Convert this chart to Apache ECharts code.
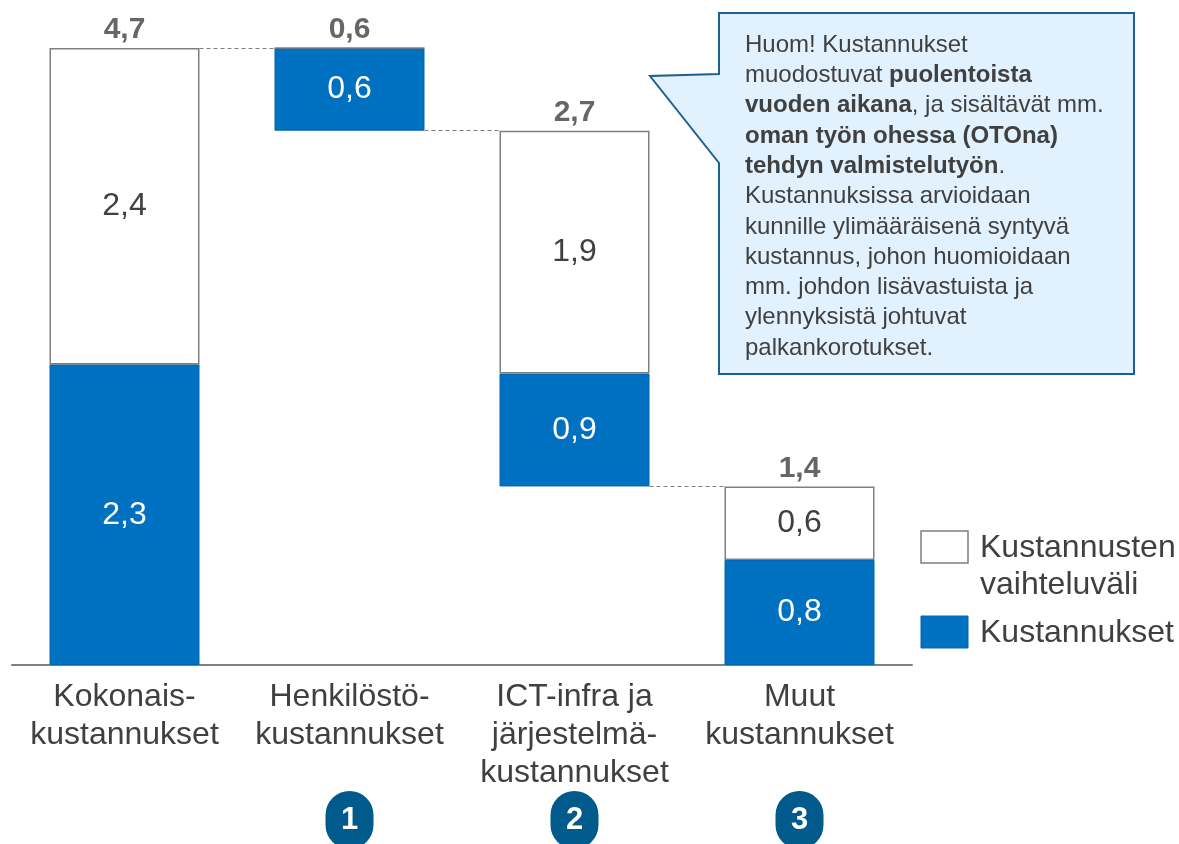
<!DOCTYPE html>
<html>
<head>
<meta charset="utf-8">
<script src="https://cdn.jsdelivr.net/npm/echarts@6/dist/echarts.min.js"></script>
<style>
  html, body { margin: 0; padding: 0; background: #fff; }
  #chart { width: 1179px; height: 844px; }
</style>
</head>
<body>
<div id="chart"></div>
<script>
// waterfall: total, then the three cost steps
const categories = ['Kokonais-\nkustannukset', 'Henkilöstö-\nkustannukset', 'ICT-infra ja\njärjestelmä-\nkustannukset', 'Muut\nkustannukset']
const stepNumbers = ['', '1', '2', '3']
const costs = [2.29, 0.63, 0.86, 0.80]        // Kustannukset
const ranges = [2.41, 0, 1.85, 0.56]          // Kustannusten vaihteluväli

const FONT = 'Liberation Sans, Arial, sans-serif'
const TEXT = '#404040'
const BLUE = '#0070C0'

const totals = costs.map((c, i) => c + ranges[i])
// steps hang down from the previous one, the first bar stands on the axis
const bases = totals.map((t, i) => i === 0 ? 0 : totals.slice(i + 1).reduce((a, b) => a + b, 0))
const tops = bases.map((b, i) => b + totals[i])

const fmt = v => (Math.round(v * 10) / 10).toFixed(1).replace('.', ',')

// dashed connectors between neighbouring bars (bar half width = 1/3 of a category)
const connectors = []
for (let i = 0; i < categories.length - 1; i++) {
  const y = i === 0 ? tops[0] : bases[i]
  connectors.push([{ coord: [i + 1 / 3, y] }, { coord: [i + 2 / 3, y] }])
}

const chart = echarts.init(document.getElementById('chart'))
chart.setOption({
  animation: false,
  textStyle: { fontFamily: FONT },
  grid: { left: 12, width: 900, top: 48, bottom: 179, outerBoundsMode: 'none' },
  xAxis: [{
    type: 'category',
    data: categories,
    axisLine: { lineStyle: { color: '#7f7f7f', width: 2 } },
    axisTick: { show: false },
    axisLabel: { interval: 0, color: TEXT, fontSize: 32, lineHeight: 38, margin: 13, fontFamily: FONT }
  }, {
    type: 'category',
    data: stepNumbers,
    position: 'bottom',
    axisLine: { show: false },
    axisTick: { show: false },
    axisLabel: {
      interval: 0,
      margin: 126,
      formatter: v => v ? '{c|' + v + '}' : '',
      rich: {
        c: {
          width: 48, height: 58, lineHeight: 58, align: 'center',
          backgroundColor: '#005A8C', borderRadius: 24,
          color: '#fff', fontWeight: 'bold', fontSize: 31, fontFamily: FONT
        }
      }
    }
  }, {
    type: 'value',
    min: -0.5,
    max: 3.5,
    show: false
  }],
  yAxis: { type: 'value', min: 0, max: 4.7, show: false },
  series: [{
    name: 'base',
    type: 'bar',
    stack: 'w',
    barWidth: 150,
    data: bases,
    itemStyle: { color: 'transparent' },
    silent: true
  }, {
    name: 'Kustannukset',
    type: 'bar',
    stack: 'w',
    data: costs,
    itemStyle: { color: BLUE, borderColor: '#0066b0', borderWidth: 1 },
    label: {
      show: true, position: 'inside', color: '#fff', fontSize: 32, fontFamily: FONT,
      formatter: p => p.value > 0 ? fmt(p.value) : ''
    }
  }, {
    name: 'Kustannusten vaihteluväli',
    type: 'bar',
    stack: 'w',
    data: ranges,
    itemStyle: { color: '#fff', borderColor: '#7f7f7f', borderWidth: 1.5 },
    label: {
      show: true, position: 'inside', color: TEXT, fontSize: 32, fontFamily: FONT,
      formatter: p => p.value > 0 ? fmt(p.value) : ''
    }
  }, {
    name: 'connectors',
    type: 'line',
    xAxisIndex: 2,
    data: [],
    markLine: {
      silent: true,
      symbol: 'none',
      label: { show: false },
      lineStyle: { color: '#7f7f7f', type: [4, 3], width: 1 },
      data: connectors
    }
  }, {
    name: 'totals',
    type: 'scatter',
    symbolSize: 0,
    data: tops.map((t, i) => [i, t]),
    label: {
      show: true, position: 'top', distance: 3,
      color: TEXT, fontSize: 30, fontWeight: 'bold', fontFamily: FONT,
      formatter: p => fmt(totals[p.dataIndex])
    },
    silent: true
  }],
  graphic: [
    // callout
    {
      type: 'polygon',
      shape: { points: [[719, 13], [1134, 13], [1134, 374], [719, 374], [719, 163], [650, 76], [719, 74]] },
      style: { fill: '#E1F1FD', stroke: '#1F5F8F', lineWidth: 2 }
    },
    {
      type: 'text',
      x: 745, y: 30,
      style: {
        text: [
          'Huom! Kustannukset',
          'muodostuvat {b|puolentoista}',
          '{b|vuoden aikana}, ja sisältävät mm.',
          '{b|oman työn ohessa (OTOna)}',
          '{b|tehdyn valmistelutyön}.',
          'Kustannuksissa arvioidaan',
          'kunnille ylimääräisenä syntyvä',
          'kustannus, johon huomioidaan',
          'mm. johdon lisävastuista ja',
          'ylennyksistä johtuvat',
          'palkankorotukset.'
        ].join('\n'),
        font: '24px Liberation Sans, Arial, sans-serif',
        fill: TEXT,
        lineHeight: 30.3,
        verticalAlign: 'top',
        rich: {
          b: { fontWeight: 'bold', fontSize: 24, fontFamily: FONT, lineHeight: 30.3, fill: TEXT }
        }
      }
    },
    // legend
    {
      type: 'rect',
      shape: { x: 921, y: 531, width: 47, height: 32 },
      style: { fill: '#fff', stroke: '#7f7f7f', lineWidth: 1.5 }
    },
    {
      type: 'text',
      x: 980, y: 530,
      style: {
        text: 'Kustannusten\nvaihteluväli',
        font: '32px Liberation Sans, Arial, sans-serif',
        fill: TEXT, lineHeight: 37, verticalAlign: 'top'
      }
    },
    {
      type: 'rect',
      shape: { x: 921, y: 616, width: 47, height: 32 },
      style: { fill: BLUE, stroke: '#0066b0', lineWidth: 1 }
    },
    {
      type: 'text',
      x: 980, y: 615,
      style: {
        text: 'Kustannukset',
        font: '32px Liberation Sans, Arial, sans-serif',
        fill: TEXT, lineHeight: 37, verticalAlign: 'top'
      }
    }
  ]
})
</script>
</body>
</html>
